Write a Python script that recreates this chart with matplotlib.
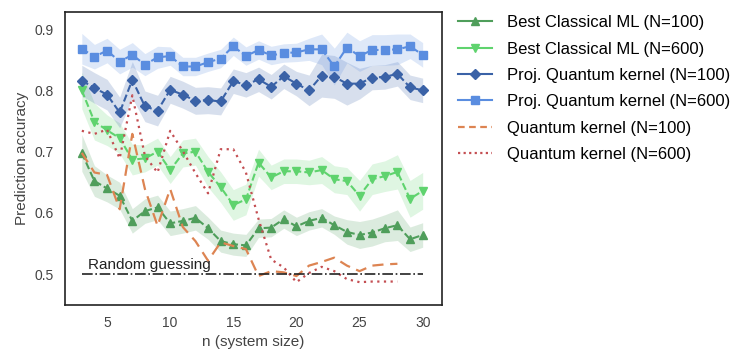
import numpy as np
import matplotlib.pyplot as plt
from matplotlib.lines import Line2D

plt.rcParams['font.family'] = ['Liberation Sans', 'DejaVu Sans']

# system sizes
n = np.arange(3, 31)

# Best classical ML
cls_100 = [0.698, 0.652, 0.640, 0.628, 0.587, 0.603, 0.609, 0.583, 0.587, 0.592,
           0.575, 0.554, 0.549, 0.547, 0.575, 0.576, 0.590, 0.578, 0.587, 0.592,
           0.580, 0.569, 0.564, 0.568, 0.575, 0.580, 0.557, 0.564]
cls_100_err = [0.03, 0.025, 0.022, 0.022, 0.02, 0.02, 0.02, 0.02, 0.02, 0.02,
               0.018, 0.018, 0.018, 0.018, 0.015, 0.015, 0.015, 0.015, 0.015, 0.015,
               0.015, 0.02, 0.022, 0.022, 0.022, 0.025, 0.02, 0.02]
cls_600 = [0.800, 0.749, 0.735, 0.722, 0.687, 0.689, 0.700, 0.670, 0.697, 0.700,
           0.667, 0.642, 0.613, 0.622, 0.682, 0.658, 0.668, 0.668, 0.666, 0.670,
           0.655, 0.652, 0.628, 0.655, 0.660, 0.667, 0.623, 0.636]
cls_600_err = [0.03, 0.03, 0.025, 0.025, 0.025, 0.022, 0.022, 0.022, 0.022, 0.022,
               0.025, 0.025, 0.025, 0.025, 0.022, 0.02, 0.02, 0.02, 0.02, 0.022,
               0.022, 0.022, 0.025, 0.025, 0.025, 0.028, 0.03, 0.03]

# Projected quantum kernel
pqk_100 = [0.816, 0.804, 0.793, 0.764, 0.817, 0.774, 0.767, 0.801, 0.793, 0.783,
           0.784, 0.782, 0.815, 0.809, 0.818, 0.806, 0.823, 0.811, 0.800, 0.824,
           0.822, 0.811, 0.811, 0.821, 0.822, 0.827, 0.805, 0.800]
pqk_100_err = [0.025, 0.025, 0.025, 0.025, 0.03, 0.025, 0.025, 0.022, 0.022, 0.022,
               0.022, 0.022, 0.02, 0.02, 0.02, 0.02, 0.02, 0.02, 0.025, 0.035,
               0.035, 0.035, 0.025, 0.02, 0.02, 0.02, 0.02, 0.02]
pqk_600 = [0.868, 0.855, 0.865, 0.847, 0.858, 0.842, 0.854, 0.856, 0.839, 0.839,
           0.846, 0.852, 0.872, 0.856, 0.866, 0.857, 0.861, 0.862, 0.867, 0.867,
           0.839, 0.870, 0.856, 0.866, 0.866, 0.867, 0.872, 0.858]
pqk_600_err = [0.025, 0.02, 0.02, 0.02, 0.02, 0.018, 0.018, 0.015, 0.015, 0.015,
               0.015, 0.015, 0.015, 0.015, 0.015, 0.015, 0.015, 0.015, 0.018, 0.025,
               0.03, 0.025, 0.025, 0.025, 0.025, 0.025, 0.02, 0.02]

# Quantum kernel (no bands)
n_qk = np.arange(3, 29)
qk_100 = [0.698, 0.666, 0.662, 0.606, 0.729, 0.639, 0.579, 0.639, 0.577, 0.554,
          0.522, 0.552, 0.546, 0.541, 0.497, 0.505, 0.503, 0.497, 0.514, 0.520,
          0.527, 0.514, 0.505, 0.514, 0.516, 0.517]
qk_600 = [0.734, 0.729, 0.736, 0.689, 0.792, 0.693, 0.666, 0.734, 0.701, 0.665,
          0.632, 0.704, 0.704, 0.666, 0.590, 0.524, 0.511, 0.487, 0.502, 0.512,
          0.505, 0.492, 0.487, 0.488, 0.488, 0.488]

c_cls100 = '#4f9e5b'
c_cls600 = '#5fd36e'
c_pqk100 = '#3a62a7'
c_pqk600 = '#5a8de0'
c_qk100 = '#dd8452'
c_qk600 = '#c44e52'

fig = plt.figure(figsize=(7.36, 3.52), dpi=100)
ax = fig.add_axes([0.088, 0.134, 0.512, 0.832])

series = [
    (cls_100, cls_100_err, c_cls100, '^', 'Best Classical ML (N=100)'),
    (cls_600, cls_600_err, c_cls600, 'v', 'Best Classical ML (N=600)'),
    (pqk_100, pqk_100_err, c_pqk100, 'D', 'Proj. Quantum kernel (N=100)'),
    (pqk_600, pqk_600_err, c_pqk600, 's', 'Proj. Quantum kernel (N=600)'),
]
handles = []
for vals, err, col, mk, lab in series:
    vals = np.array(vals)
    err = np.array(err)
    ms = 6 if mk != 'D' else 5
    ax.fill_between(n, vals - err, vals + err, color=col, alpha=0.2, lw=0)
    ax.plot(n, vals, color=col, marker=mk, ms=ms, ls=(0, (3.5, 1.5)), lw=1.5)
    handles.append(Line2D([], [], color=col, marker=mk, ms=ms, lw=1.5, label=lab))

ax.plot(n_qk, qk_100, color=c_qk100, ls=(0, (5, 3)), lw=1.6)
ax.plot(n_qk, qk_600, color=c_qk600, ls=(0, (1, 2)), lw=1.6)
handles.append(Line2D([], [], color=c_qk100, ls=(0, (3, 2)), lw=1.6, label='Quantum kernel (N=100)'))
handles.append(Line2D([], [], color=c_qk600, ls=(0, (1, 1.5)), lw=1.6, label='Quantum kernel (N=600)'))

ax.plot([3, 30], [0.5, 0.5], color='#222222', ls='-.', lw=1.2)
ax.text(3.5, 0.503, 'Random guessing', fontsize=11, color='#222222', va='bottom')

ax.set_xlim(1.65, 31.5)
ax.set_ylim(0.45, 0.928)
ax.set_xticks([5, 10, 15, 20, 25, 30])
ax.set_yticks([0.5, 0.6, 0.7, 0.8, 0.9])
ax.tick_params(length=0, labelsize=10, colors='#444444', pad=8)
ax.set_xlabel('n (system size)', fontsize=11, color='#444444')
ax.set_ylabel('Prediction accuracy', fontsize=11, color='#444444')
for s in ax.spines.values():
    s.set_color('#222222')
    s.set_linewidth(1.2)

ax.legend(handles=handles, loc='upper left', bbox_to_anchor=(1.005, 1.04), frameon=False,
          fontsize=12, handlelength=2.0, labelspacing=0.68, handletextpad=0.9)

fig.savefig('out.png', dpi=100)
